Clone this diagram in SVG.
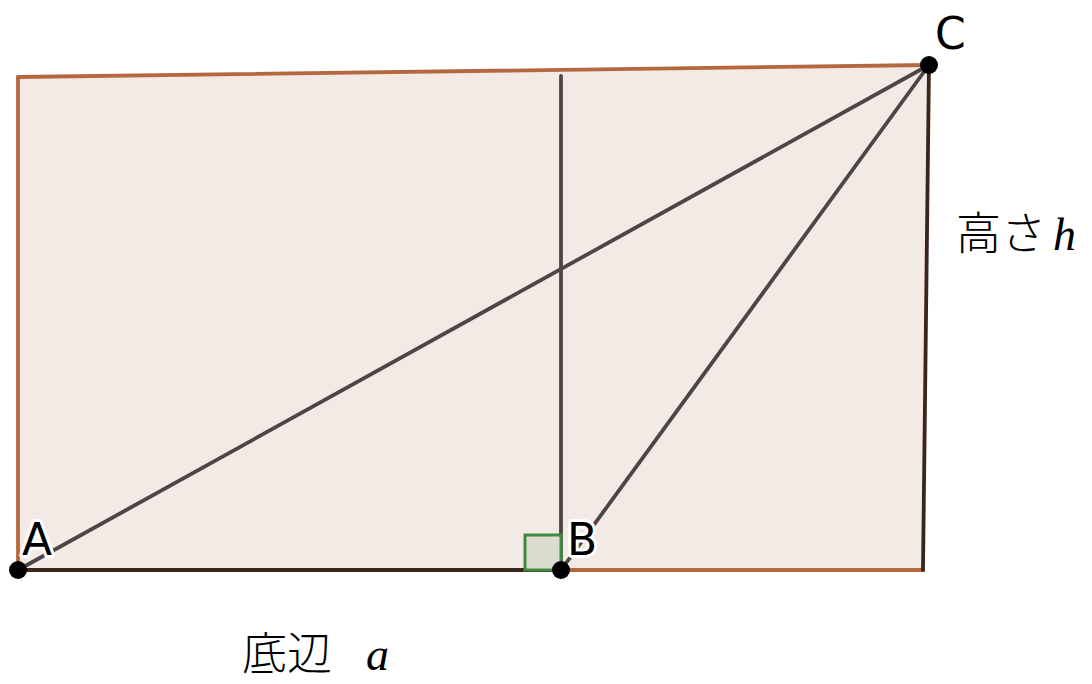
<svg xmlns="http://www.w3.org/2000/svg" width="1092" height="684" viewBox="0 0 1092 684">
<style>
.edge{stroke-width:3.8;fill:none;stroke-linecap:round}
.orange{stroke:#b5683f}
.dark{stroke:#3b2419}
.gray{stroke:#4d4645;stroke-width:3.8;fill:none;stroke-linecap:round}
.pt{fill:#000}
.lbl{font-family:"DejaVu Sans",sans-serif;font-size:44px;fill:#000;stroke:#fff;stroke-width:6;paint-order:stroke;stroke-linejoin:round}
.jp{font-family:"Noto Sans CJK JP",serif;font-size:45px;font-weight:300;fill:#000}
.it{font-family:"Liberation Serif",serif;font-style:italic;font-size:46px}
</style>
<g id="region">
<polygon points="18,77 929,65 923,570 18,570" fill="#f3e9e5"/>
</g>
<g id="connectors">
<line class="edge orange" x1="18" y1="77" x2="18" y2="570"/>
<line class="edge orange" x1="18" y1="77" x2="929" y2="65"/>
<line class="edge orange" x1="561" y1="570" x2="923" y2="570"/>
<line class="edge dark" x1="929" y1="65" x2="923" y2="570"/>
<line class="edge dark" x1="18" y1="570" x2="561" y2="570"/>
<line class="gray" x1="561" y1="76" x2="561" y2="570"/>
<line class="gray" x1="18" y1="570" x2="929" y2="65"/>
<line class="gray" x1="561" y1="570" x2="929" y2="65"/>
</g>
<g id="rightangle">
<polygon points="525,570 525,535 561,535 561,570" fill="#dcdccf" stroke="#3f8a3f" stroke-width="3"/>
</g>
<g id="A"><circle class="pt" cx="18" cy="570" r="9"/><text class="lbl" x="22" y="555">A</text></g>
<g id="B"><circle class="pt" cx="561" cy="570" r="9"/><text class="lbl" x="567" y="555">B</text></g>
<g id="C"><circle class="pt" cx="929" cy="65" r="9"/><text class="lbl" x="935" y="49">C</text></g>
<g id="height-label"><text class="jp" x="956" y="250">高さ<tspan class="it" x="1053">h</tspan></text></g>
<g id="base-label"><text class="jp" x="242" y="670">底辺<tspan class="it" x="366">a</tspan></text></g>
</svg>
